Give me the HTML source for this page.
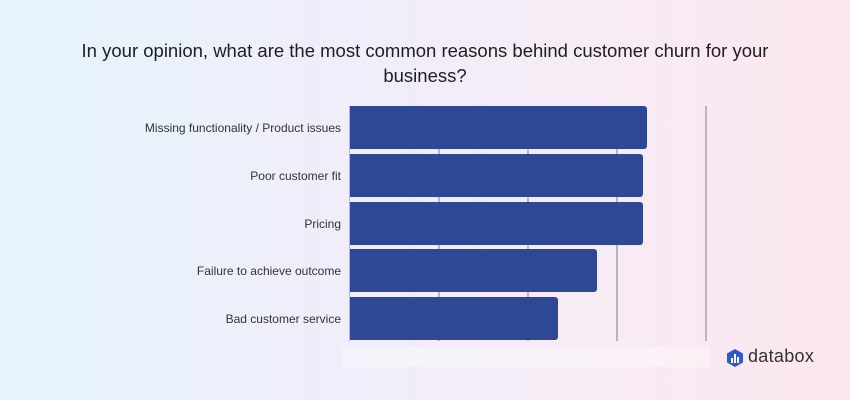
<!DOCTYPE html>
<html><head><style>
body{margin:0;width:850px;height:400px;overflow:hidden;background:linear-gradient(90deg,#e6f4fc 0%,#efeefa 40%,#f8ebf4 75%,#fce6ef 100%);font-family:"Liberation Sans",sans-serif;position:relative}
.t{position:absolute;left:0;width:850px;top:38px;text-align:center;font-size:18.5px;line-height:25px;color:#1e1e1e}
.g{position:absolute;top:106px;height:235px;width:2px;background:#b9b4bd}
.b{position:absolute;left:350px;height:43px;background:#2e4896;border-radius:0 3px 3px 0}
.l{position:absolute;right:509px;font-size:12px;color:#333;line-height:14px}
</style></head><body>
<div class="t">In your opinion, what are the most common reasons behind customer churn for your<br>business?</div>
<div style="position:absolute;left:342px;top:347px;width:368px;height:20px;background:rgba(255,255,255,0.35)"></div>
<div class="g" style="left:349px;width:1px"></div>
<div class="g" style="left:438px"></div>
<div class="g" style="left:527px"></div>
<div class="g" style="left:616px"></div>
<div class="g" style="left:705px"></div>
<div class="b" style="top:106px;width:297px"></div>
<div class="b" style="top:154px;width:293px"></div>
<div class="b" style="top:202px;width:293px"></div>
<div class="b" style="top:249px;width:247px"></div>
<div class="b" style="top:297px;width:208px"></div>
<div class="l" style="top:121px">Missing functionality / Product issues</div>
<div class="l" style="top:169px">Poor customer fit</div>
<div class="l" style="top:217px">Pricing</div>
<div class="l" style="top:264px">Failure to achieve outcome</div>
<div class="l" style="top:312px">Bad customer service</div>
<svg style="position:absolute;left:727px;top:349px" width="16" height="18" viewBox="0 0 16 18"><polygon points="8,0 16,4.5 16,13.5 8,18 0,13.5 0,4.5" fill="#2f5bc8"/><rect x="4" y="9" width="2" height="5" fill="#fff"/><rect x="7" y="5" width="2" height="9" fill="#fff"/><rect x="10" y="8" width="2" height="6" fill="#fff"/></svg>
<div style="position:absolute;left:748px;top:346px;font-size:18px;color:#333;letter-spacing:0.3px">databox</div>
</body></html>
